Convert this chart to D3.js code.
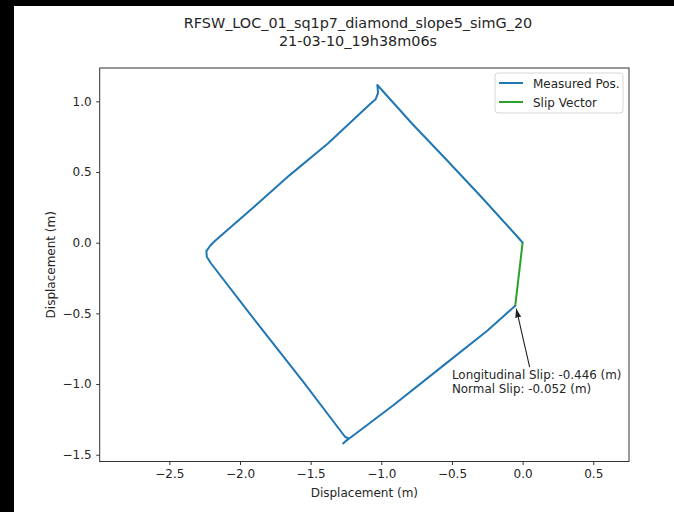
<!DOCTYPE html>
<meta charset="utf-8">
<style>
body { margin: 0; background: #000; }
svg { display: block; }
text { font-family: "DejaVu Sans", sans-serif; fill: #262626; }
.axis path, .axis line { stroke: #333; }
.axis text { font-size: 12px; }
</style>
<body>
<script src="https://d3js.org/d3.v7.min.js"></script>
<script>
// measured position trace (m)
var posX = [0, -0.03, -0.30, -0.537, -0.78, -1.028, -1.023, -1.04, -1.075,
  -1.38, -1.646, -1.90, -2.18, -2.21, -2.238, -2.235, -2.21,
  -1.953, -1.552, -1.257, -1.232, -1.27, -1.257,
  -0.915, -0.537, -0.25, -0.052];
var posY = [0, 0.035, 0.332, 0.585, 0.84, 1.116, 1.06, 1.015, 0.985,
  0.70, 0.48, 0.255, 0.01, -0.02, -0.06, -0.10, -0.14,
  -0.474, -0.985, -1.373, -1.385, -1.42, -1.408,
  -1.15, -0.85, -0.623, -0.446];
var slipX = [0, -0.052];
var slipY = [0, -0.446];
var longSlip = -0.446, normSlip = -0.052;
var xTicks = [-2.5, -2.0, -1.5, -1.0, -0.5, 0.0, 0.5];
var yTicks = [-1.5, -1.0, -0.5, 0.0, 0.5, 1.0];
var titleLines = ["RFSW_LOC_01_sq1p7_diamond_slope5_simG_20", "21-03-10_19h38m06s"];
var legendNames = ["Measured Pos.", "Slip Vector"];
var colors = ["#1f77b4", "#2ca02c"];

var width = 674, height = 512;
var plot = {left: 99.7, right: 629, top: 68, bottom: 461.5};

var svg = d3.select("body").append("svg")
    .attr("width", width)
    .attr("height", height);

// black strips at top / left like the screenshot
svg.append("rect").attr("x", 14).attr("y", 6)
    .attr("width", width - 14).attr("height", height - 6).attr("fill", "#fff");

var x = d3.scaleLinear().domain([-2.993, 0.753]).range([plot.left, plot.right]);
var y = d3.scaleLinear().domain([-1.548, 1.236]).range([plot.bottom, plot.top]);

svg.append("g").attr("class", "axis")
    .attr("transform", "translate(0," + plot.bottom + ")")
    .call(d3.axisBottom(x).tickValues(xTicks).tickSize(3.5).tickPadding(4.5)
      .tickFormat(d3.format(".1f")))
    .call(function(g) { g.select(".domain").remove(); });

svg.append("g").attr("class", "axis")
    .attr("transform", "translate(" + plot.left + ",0)")
    .call(d3.axisLeft(y).tickValues(yTicks).tickSize(3.5).tickPadding(4.5)
      .tickFormat(d3.format(".1f")))
    .call(function(g) { g.select(".domain").remove(); });

// matplotlib style minus sign
svg.selectAll(".axis text").text(function() { return this.textContent.replace("-", "\u2212"); });

var pos = posX.map(function(d, i) { return [d, posY[i]]; });
var slip = slipX.map(function(d, i) { return [d, slipY[i]]; });
var line = d3.line().x(function(d) { return x(d[0]); }).y(function(d) { return y(d[1]); });

svg.append("path").datum(pos).attr("d", line)
    .attr("fill", "none").attr("stroke", colors[0]).attr("stroke-width", 2)
    .attr("stroke-linejoin", "round").attr("stroke-linecap", "round");
svg.append("path").datum(slip).attr("d", line)
    .attr("fill", "none").attr("stroke", colors[1]).attr("stroke-width", 2);

// frame
svg.append("rect")
    .attr("x", plot.left).attr("y", plot.top)
    .attr("width", plot.right - plot.left).attr("height", plot.bottom - plot.top)
    .attr("fill", "none").attr("stroke", "#333").attr("stroke-width", 1);

// annotation
svg.append("defs").append("marker")
    .attr("id", "head").attr("viewBox", "0 0 10 10")
    .attr("refX", 10).attr("refY", 5)
    .attr("markerWidth", 8).attr("markerHeight", 8)
    .attr("orient", "auto")
  .append("path").attr("d", "M0,1.5L10,5L0,8.5Z").attr("fill", "#222");

var tipX = x(normSlip) + 1, tipY = y(longSlip) + 3;
svg.append("line")
    .attr("x1", x(0.05)).attr("y1", y(-0.88))
    .attr("x2", tipX).attr("y2", tipY)
    .attr("stroke", "#222").attr("stroke-width", 1.1)
    .attr("marker-end", "url(#head)");

var ann = svg.append("text").attr("x", x(-0.5)).attr("y", y(-0.965)).style("font-size", "11.9px");
ann.append("tspan").attr("x", x(-0.5)).text("Longitudinal Slip: " + longSlip.toFixed(3) + " (m)");
ann.append("tspan").attr("x", x(-0.5)).attr("dy", 14).text("Normal Slip: " + normSlip.toFixed(3) + " (m)");

// labels
svg.append("text")
    .attr("x", (plot.left + plot.right) / 2).attr("y", 497)
    .attr("text-anchor", "middle").style("font-size", "12px")
    .text("Displacement (m)");

svg.append("text")
    .attr("transform", "translate(55," + (plot.top + plot.bottom) / 2 + ")rotate(-90)")
    .attr("text-anchor", "middle").style("font-size", "12px")
    .text("Displacement (m)");

var title = svg.append("text").attr("text-anchor", "middle").style("font-size", "14.4px");
titleLines.forEach(function(t, i) {
  title.append("tspan").attr("x", 358).attr("y", 28 + i * 18).text(t);
});

// legend
var lg = svg.append("g").attr("transform", "translate(495,73)");
lg.append("rect").attr("width", 128).attr("height", 40).attr("rx", 3)
    .attr("fill", "#fff").attr("fill-opacity", 0.8).attr("stroke", "#d6d6d6");
legendNames.forEach(function(name, i) {
  lg.append("line").attr("x1", 4).attr("x2", 28).attr("y1", 10 + i * 19).attr("y2", 10 + i * 19)
      .attr("stroke", colors[i]).attr("stroke-width", 2);
  lg.append("text").attr("x", 38).attr("y", 14.5 + i * 19).style("font-size", "12px").text(name);
});
</script>
